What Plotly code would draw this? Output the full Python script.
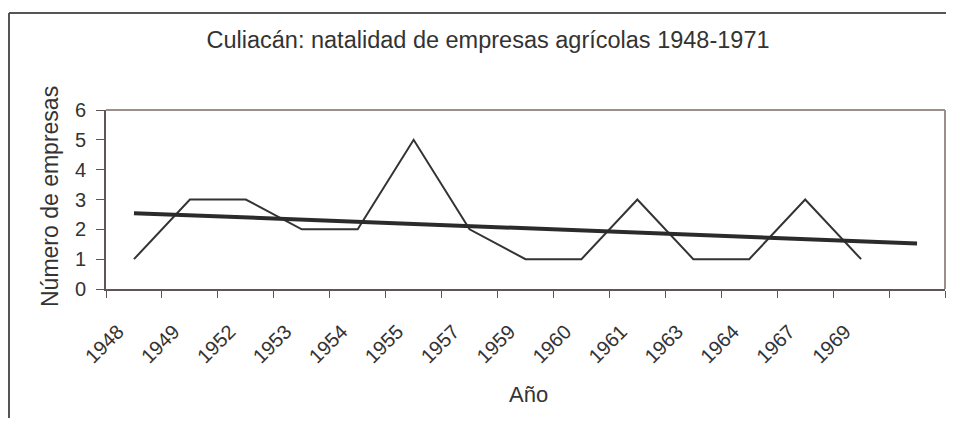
import numpy as np
import plotly.graph_objects as go

# ---- data ----
years = ["1948", "1949", "1952", "1953", "1954", "1955", "1957",
         "1959", "1960", "1961", "1963", "1964", "1967", "1969"]
empresas = [1, 3, 3, 2, 2, 5, 2, 1, 1, 3, 1, 1, 3, 1]
y_ticks = [0, 1, 2, 3, 4, 5, 6]
title_text = "Culiacán: natalidad de empresas agrícolas 1948-1971"
y_title = "Número de empresas"
x_title = "Año"

# ---- layout constants (page pixels; page body has an 8px margin) ----
OFF = 8
W, H = 954 - 2 * OFF, 430 - 2 * OFF - 4
L, R, T, B = 106 - OFF, W - 1, 110 - OFF, 289 - OFF
pw, ph = R - L, B - T

def px_x(p):  # page pixel -> paper x
    return (p - OFF - L) / pw

def px_y(p):  # page pixel -> paper y
    return (B - (p - OFF)) / ph

FONT = "Liberation Sans, Arial, sans-serif"
TXT = "#333333"

xi = list(range(len(years)))
# linear trend (Excel-style), extended one period forward
coef = np.polyfit(xi, empresas, 1)
trend_x = [0, len(years)]
trend_y = list(np.polyval(coef, trend_x))

fig = go.Figure()
fig.add_trace(go.Scatter(x=xi, y=empresas, mode="lines",
                         line=dict(color="#333333", width=2),
                         hoverinfo="x+y", showlegend=False))
fig.add_trace(go.Scatter(x=trend_x, y=trend_y, mode="lines",
                         line=dict(color="#2b2b2b", width=4),
                         hoverinfo="skip", showlegend=False))

n_slots = len(years) + 1
fig.update_xaxes(
    range=[-0.5, n_slots - 0.5],
    tickmode="array", tickvals=xi, ticktext=years,
    tickangle=-45, ticks="", showgrid=False, zeroline=False,
    showline=True, linecolor="#5e5656", linewidth=2,
    tickfont=dict(family=FONT, size=20, color=TXT),
    ticklabelstandoff=21, ticklabelshift=-16,
    minor=dict(tickmode="array",
               tickvals=[i - 0.5 for i in range(n_slots + 1)],
               ticks="outside", ticklen=7, tickcolor="#5e5656",
               tickwidth=1, showgrid=False),
)
fig.update_yaxes(
    range=[0, 6], tickmode="array", tickvals=y_ticks,
    ticks="outside", ticklen=8, tickcolor="#5e5656", tickwidth=1,
    showgrid=False, zeroline=False,
    showline=True, linecolor="#5e5656", linewidth=2,
    tickfont=dict(family=FONT, size=20, color=TXT),
    ticklabelstandoff=6,
)

shapes = [
    # plot-area top and right border (lighter brownish grey)
    dict(type="line", xref="paper", yref="paper", x0=0, x1=1, y0=1, y1=1,
         line=dict(color="#9c8f8b", width=2)),
    dict(type="line", xref="paper", yref="paper", x0=1, x1=1, y0=0, y1=1,
         line=dict(color="#9c8f8b", width=2)),
    # outer chart frame (left and top visible)
    dict(type="line", xref="paper", yref="paper",
         x0=px_x(9), x1=px_x(946), y0=px_y(13), y1=px_y(13),
         line=dict(color="#555555", width=2)),
    dict(type="line", xref="paper", yref="paper",
         x0=px_x(9), x1=px_x(9), y0=px_y(13), y1=px_y(421),
         line=dict(color="#555555", width=2)),
]

annotations = [
    dict(text=y_title, xref="paper", yref="paper", x=px_x(50), y=px_y(197),
         xanchor="center", yanchor="middle", textangle=-90, showarrow=False,
         font=dict(family=FONT, size=23, color=TXT)),
    dict(text=x_title, xref="paper", yref="paper", x=px_x(528), y=px_y(394),
         xanchor="center", yanchor="middle", showarrow=False,
         font=dict(family=FONT, size=22, color=TXT)),
]

fig.update_layout(
    width=W, height=H,
    margin=dict(l=L, r=W - R, t=T, b=H - B, pad=0),
    paper_bgcolor="white", plot_bgcolor="white",
    title=dict(text=title_text, x=(488 - OFF) / W, xanchor="center",
               y=1 - (40 - OFF) / H, yanchor="middle",
               xref="container", yref="container",
               font=dict(family=FONT, size=23.5, color=TXT)),
    shapes=shapes, annotations=annotations,
    showlegend=False,
)

fig.write_html("out.html", config={"displayModeBar": False})
